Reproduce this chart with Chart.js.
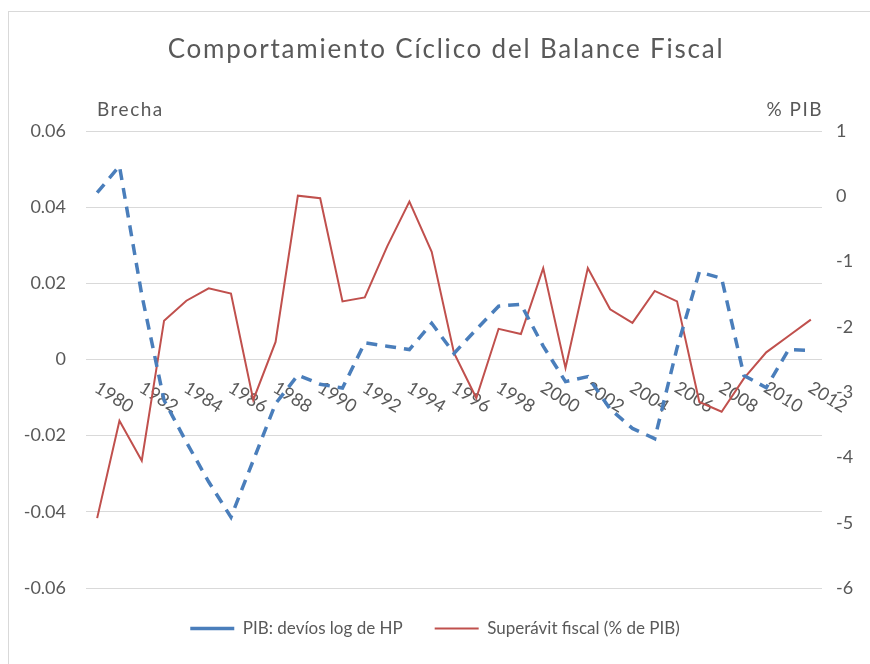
<!DOCTYPE html>
<html>
<head>
<meta charset="utf-8">
<script src="https://cdn.jsdelivr.net/npm/chart.js@4.4.1/dist/chart.umd.min.js"></script>
<style>
	html, body { margin: 0; padding: 0; background: #fff; }
	canvas { display: block; }
</style>
</head>
<body>
<canvas id="grafico" width="870" height="664"></canvas>
<script>
// datos
const anios = ['1980', '1981', '1982', '1983', '1984', '1985', '1986', '1987', '1988', '1989',
	'1990', '1991', '1992', '1993', '1994', '1995', '1996', '1997', '1998', '1999',
	'2000', '2001', '2002', '2003', '2004', '2005', '2006', '2007', '2008', '2009',
	'2010', '2011', '2012'];

const brechaPIB = [0.0438, 0.0508, 0.017, -0.0107, -0.0217, -0.0321, -0.0414, -0.0265, -0.0116, -0.0041,
	-0.0065, -0.0075, 0.0044, 0.0035, 0.0026, 0.0095, 0.0016, 0.0079, 0.014, 0.0145,
	0.0035, -0.0058, -0.0045, -0.013, -0.0181, -0.0208, 0.003, 0.023, 0.0213, -0.0042,
	-0.0074, 0.0026, 0.0024];

const superavit = [-4.93, -3.44, -4.05, -1.905, -1.60, -1.41, -1.49, -3.12, -2.23, 0.01,
	-0.03, -1.61, -1.55, -0.77, -0.08, -0.85, -2.40, -3.09, -2.03, -2.11,
	-1.10, -2.63, -1.10, -1.73, -1.94, -1.45, -1.61, -3.15, -3.30, -2.79,
	-2.39, -2.14, -1.89];

const ticksIzq = [-0.06, -0.04, -0.02, 0, 0.02, 0.04, 0.06];
const ticksDer = [-6, -5, -4, -3, -2, -1, 0, 1];

const gris = '#595959';
const fuente = 'Lato, "Open Sans", sans-serif';

// titulo, rotulos de ejes y etiquetas de años (rotadas como en Excel)
const decorado = {
	id: 'decorado',
	beforeDraw(chart) {
		const ctx = chart.ctx;
		const area = chart.chartArea;
		ctx.save();
		ctx.strokeStyle = '#d9d9d9';
		ctx.lineWidth = 1;
		ctx.strokeRect(8.5, 11.5, 900, 700);

		ctx.fillStyle = gris;
		ctx.textBaseline = 'middle';
		ctx.font = '26px ' + fuente;
		ctx.letterSpacing = '1.8px';
		ctx.textAlign = 'center';
		ctx.fillText('Comportamiento Cíclico del Balance Fiscal', 446, 50);

		ctx.font = '19px ' + fuente;
		ctx.letterSpacing = '1.5px';
		ctx.textAlign = 'left';
		ctx.fillText('Brecha', area.left + 11, 110);
		ctx.textAlign = 'right';
		ctx.fillText('% PIB', area.right + 1, 110);
		ctx.restore();
	},
	beforeDatasetsDraw(chart) {
		const ctx = chart.ctx;
		const x = chart.scales.x;
		const y0 = chart.scales.y.getPixelForValue(0);
		ctx.save();
		ctx.fillStyle = gris;
		ctx.font = '18px ' + fuente;
		ctx.textAlign = 'left';
		ctx.textBaseline = 'top';
		anios.forEach((a, i) => {
			if (i % 2 !== 0) return;
			ctx.save();
			ctx.translate(x.getPixelForValue(i) + 4, y0 + 19);
			ctx.rotate(32 * Math.PI / 180);
			ctx.fillText(a, 0, 0);
			ctx.restore();
		});
		ctx.restore();
	}
};

new Chart(document.getElementById('grafico'), {
	type: 'line',
	data: {
		labels: anios,
		datasets: [
		{
			label: 'PIB: devíos log de HP',
			data: brechaPIB,
			yAxisID: 'y',
			borderColor: '#4a7ebb',
			backgroundColor: '#4a7ebb',
			borderWidth: 3.5,
			borderDash: [11, 8],
			pointRadius: 0,
			tension: 0,
		},
		{
			label: 'Superávit fiscal (% de PIB)',
			data: superavit,
			yAxisID: 'y2',
			borderColor: '#c0504d',
			backgroundColor: '#c0504d',
			borderWidth: 2,
			pointRadius: 0,
			tension: 0,
		},
	]
	},
	options: {
		responsive: false,
		animation: false,
		layout: {
			padding: { top: 131, left: 0, right: 0, bottom: 17 }
		},
		plugins: {
			title: { display: false },
			tooltip: { enabled: false },
			legend: {
				position: 'bottom',
				labels: {
					usePointStyle: true,
					pointStyle: 'line',
					pointStyleWidth: 44,
					padding: 32,
					color: gris,
					font: { family: fuente, size: 17 }
				}
			}
		},
		scales: {
			x: {
				display: false,
				offset: true,
			},
			y: {
				position: 'left',
				min: -0.06,
				max: 0.06,
				afterBuildTicks: (s) => { s.ticks = ticksIzq.map(v => ({ value: v })); },
				afterFit: (s) => { s.width = 86; },
				grid: { color: '#d9d9d9', drawTicks: false },
				border: { display: false },
				ticks: {
					padding: 20,
					color: gris,
					font: { family: fuente, size: 18 },
					callback: (v) => String(Math.round(v * 100) / 100)
				}
			},
			y2: {
				position: 'right',
				min: -6,
				max: 1,
				afterBuildTicks: (s) => { s.ticks = ticksDer.map(v => ({ value: v })); },
				afterFit: (s) => { s.width = 48; },
				grid: { display: false, drawTicks: false },
				border: { display: false },
				ticks: {
					padding: 14,
					color: gris,
					font: { family: fuente, size: 18 },
					callback: (v) => String(v)
				}
			}
		}
	},
	plugins: [decorado]
});
</script>
</body>
</html>
